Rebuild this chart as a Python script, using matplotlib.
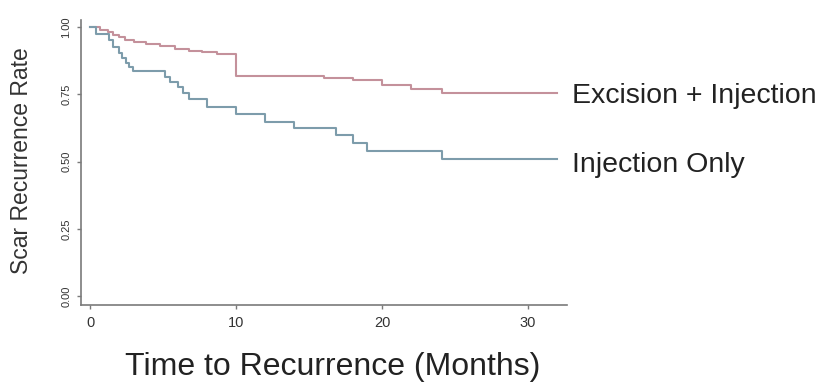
import matplotlib
matplotlib.use("Agg")
import matplotlib.pyplot as plt

plt.rcParams['font.family'] = ['Liberation Sans', 'DejaVu Sans']

# Kaplan-Meier style step data (time in months, survival-free rate)
excision_t = [0, 0.7, 1.2, 1.6, 2.0, 2.4, 3.0, 3.8, 4.8, 5.8, 6.8, 7.7, 8.7, 10.0, 16.0, 18.0, 20.0, 22.0, 24.1, 32.0]
excision_s = [1.0, 0.99, 0.982, 0.972, 0.962, 0.953, 0.945, 0.938, 0.929, 0.920, 0.912, 0.906, 0.901, 0.819, 0.812, 0.803, 0.784, 0.768, 0.753, 0.753]

injection_t = [0, 0.4, 1.3, 1.6, 1.95, 2.2, 2.45, 2.65, 2.95, 5.1, 5.5, 6.0, 6.35, 6.75, 8.0, 10.0, 12.0, 14.0, 16.85, 18.0, 19.0, 24.1, 32.0]
injection_s = [1.0, 0.975, 0.95, 0.927, 0.902, 0.883, 0.865, 0.852, 0.837, 0.815, 0.797, 0.778, 0.753, 0.731, 0.703, 0.675, 0.648, 0.623, 0.597, 0.570, 0.540, 0.509, 0.509]

series_labels = ["Excision + Injection", "Injection Only"]
x_ticks = [0, 10, 20, 30]
y_ticks = [0.0, 0.25, 0.5, 0.75, 1.0]

W, H = 821, 383
fig = plt.figure(figsize=(W / 100, H / 100), dpi=100)
ax = fig.add_axes([81 / W, 1 - 305 / H, (567 - 81) / W, (305 - 20) / H])

red = '#c4919b'
blue = '#7d9cab'
ax.step(excision_t, excision_s, where='post', color=red, lw=1.5)
ax.step(injection_t, injection_s, where='post', color=blue, lw=1.5)

ax.set_xlim(-0.62, 32.67)
ax.set_ylim(-0.033, 1.026)

for s in ['top', 'right']:
    ax.spines[s].set_visible(False)
for s in ['left', 'bottom']:
    ax.spines[s].set_color('#7a7a7a')
    ax.spines[s].set_linewidth(1.2)

ax.set_xticks(x_ticks)
ax.set_xticklabels([str(v) for v in x_ticks], fontsize=10.5, color='#333333')
ax.set_yticks(y_ticks)
ax.set_yticklabels([f"{v:.2f}" for v in y_ticks], fontsize=8, rotation=90,
                   va='center', color='#333333')
ax.tick_params(axis='both', length=3, color='#7a7a7a', width=1)
ax.tick_params(axis='x', pad=5)
ax.tick_params(axis='y', pad=4)

fig.text(22 / W, 1 - 161 / H, "Scar Recurrence Rate", rotation=90, fontsize=16.5,
         ha='center', va='center', color='#333333')
fig.text(333 / W, 1 - 375 / H, "Time to Recurrence (Months)", fontsize=23,
         ha='center', va='baseline', color='#222222')

fig.text(572 / W, 1 - 103 / H, series_labels[0], fontsize=20.5,
         ha='left', va='baseline', color='#222222')
fig.text(572 / W, 1 - 172 / H, series_labels[1], fontsize=20.5,
         ha='left', va='baseline', color='#222222')

fig.savefig("out.png", dpi=100, facecolor='white')
